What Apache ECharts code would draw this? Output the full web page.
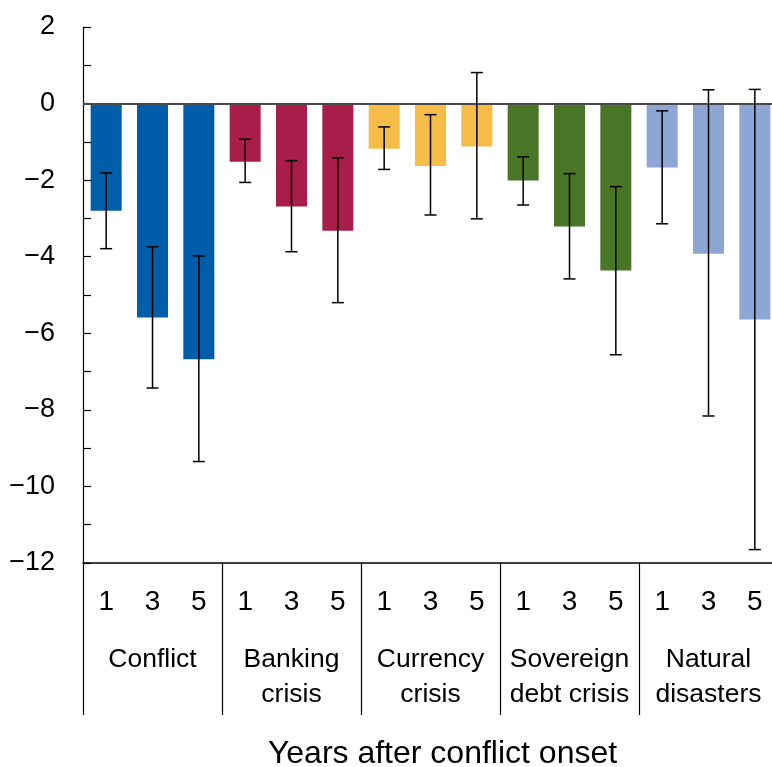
<!DOCTYPE html>
<html>
<head>
<meta charset="utf-8">
<script src="https://cdn.jsdelivr.net/npm/echarts@6/dist/echarts.min.js"></script>
<style>
html,body{margin:0;padding:0;background:#fff;}
#chart{width:772px;height:767px;}
</style>
</head>
<body>
<div id="chart"></div>
<script>
const groups = ['Conflict', 'Banking\ncrisis', 'Currency\ncrisis', 'Sovereign\ndebt crisis', 'Natural\ndisasters'];
const years = ['1', '3', '5'];
const groupColors = ['#005DAA', '#A81D4A', '#F5BD48', '#487526', '#8EA6D4'];
const conflict = [-2.80, -5.59, -6.68];
const banking = [-1.52, -2.69, -3.32];
const currency = [-1.18, -1.63, -1.12];
const sovereign = [-2.01, -3.21, -4.36];
const natural = [-1.67, -3.92, -5.64];
const errLow = [-3.79, -7.43, -9.35, -2.06, -3.87, -5.20, -1.72, -2.91, -3.01, -2.65, -4.58, -6.56, -3.14, -8.16, -11.65];
const errHigh = [-1.81, -3.74, -3.98, -0.93, -1.49, -1.42, -0.61, -0.29, 0.81, -1.39, -1.83, -2.17, -0.19, 0.36, 0.37];
const yTicks = { min: -12, max: 2, step: 1 };
const xTitle = 'Years after conflict onset';

const seriesValues = [conflict, banking, currency, sovereign, natural];
const categories = [];
const barData = [];
seriesValues.forEach((vals, g) => {
  vals.forEach((v, i) => {
    categories.push(years[i]);
    barData.push({ value: v, itemStyle: { color: groupColors[g] } });
  });
});
const errData = errLow.map((lo, i) => [i, lo, errHigh[i]]);

const font = 'Liberation Sans, Arial, sans-serif';
const chart = echarts.init(document.getElementById('chart'), null, { renderer: 'canvas' });
chart.setOption({
  animation: false,
  backgroundColor: '#fff',
  grid: { left: 83, top: 27, width: 695, height: 536, containLabel: false, outerBoundsMode: 'none' },
  xAxis: [
    {
      type: 'category', data: categories, position: 'bottom',
      axisLine: { onZero: false, lineStyle: { color: '#000', width: 1.5 } },
      axisTick: { show: false },
      axisLabel: { color: '#000', fontSize: 28, fontFamily: font, lineHeight: 32, margin: 23 }
    },
    {
      type: 'category', data: groups, position: 'bottom',
      axisLine: { show: false, onZero: false },
      axisTick: { show: true, interval: 0, length: 152, lineStyle: { color: '#000', width: 1.2 } },
      axisLabel: { interval: 0, color: '#000', fontSize: 26.5, fontFamily: font, lineHeight: 35, margin: 79 },
      name: xTitle, nameLocation: 'middle', nameGap: 175,
      nameTextStyle: { color: '#000', fontSize: 32, fontFamily: font, padding: [0, 0, 0, 24] }
    }
  ],
  yAxis: {
    type: 'value', min: yTicks.min, max: yTicks.max, interval: yTicks.step,
    axisLine: { show: true, lineStyle: { color: '#000', width: 1.2 } },
    axisTick: { show: true, inside: true, length: 8, lineStyle: { color: '#000', width: 1.2 } },
    splitLine: { show: false },
    axisLabel: {
      color: '#000', fontSize: 27, fontFamily: font, margin: 28,
      formatter: v => (v % 2 === 0 ? (v < 0 ? '\u2212' + Math.abs(v) : String(v)) : '')
    }
  },
  series: [
    {
      type: 'bar', data: barData, barWidth: 31, xAxisIndex: 0,
      markLine: {
        silent: true, symbol: 'none', label: { show: false },
        lineStyle: { color: '#4a4a4a', width: 2, type: 'solid' },
        data: [{ yAxis: 0 }]
      }
    },
    {
      type: 'custom', xAxisIndex: 0, data: errData, z: 5,
      renderItem: (params, api) => {
        const x = api.value(0);
        const lo = api.coord([x, api.value(1)]);
        const hi = api.coord([x, api.value(2)]);
        const cap = 6;
        const style = { stroke: '#000', lineWidth: 1.5 };
        return {
          type: 'group',
          children: [
            { type: 'line', shape: { x1: lo[0], y1: lo[1], x2: hi[0], y2: hi[1] }, style },
            { type: 'line', shape: { x1: lo[0] - cap, y1: lo[1], x2: lo[0] + cap, y2: lo[1] }, style },
            { type: 'line', shape: { x1: hi[0] - cap, y1: hi[1], x2: hi[0] + cap, y2: hi[1] }, style }
          ]
        };
      }
    }
  ]
});
</script>
</body>
</html>
